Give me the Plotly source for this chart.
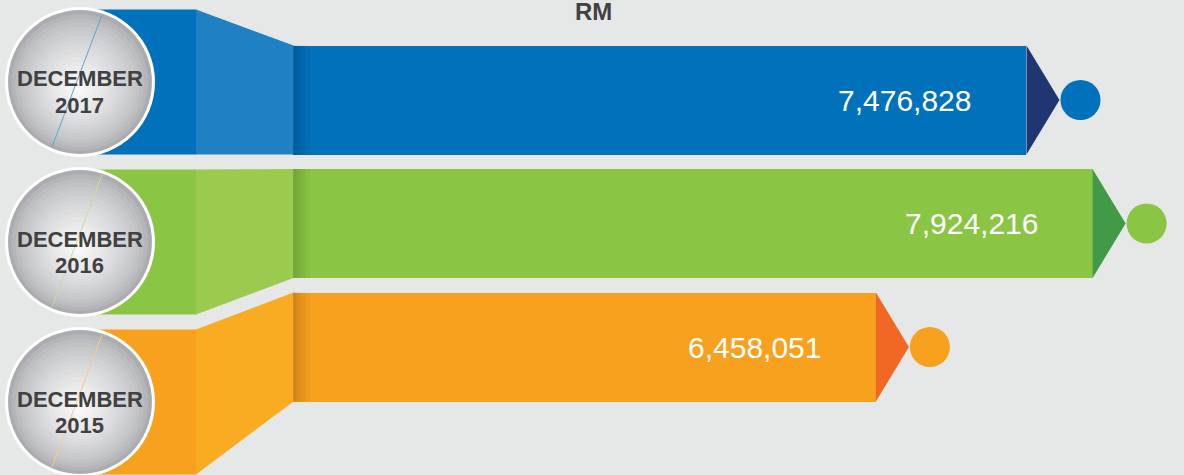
import plotly.graph_objects as go

# ---------------- data ----------------
months = ["DECEMBER", "DECEMBER", "DECEMBER"]
years = ["2017", "2016", "2015"]
values = [7476828, 7924216, 6458051]
value_labels = ["7,476,828", "7,924,216", "6,458,051"]
title_text = "RM"

# ---------------- style ----------------
W, H = 1184, 475
BG = "#E6E7E7"
main_colors = ["#0071BA", "#8AC543", "#F7A11E"]
light_colors = ["#1F80C4", "#9ACB4F", "#F9AB22"]
tip_colors = ["#1F3670", "#439A46", "#F06824"]
line_colors = ["#5BA6DB", "#C2E09A", "#FBCB86"]
TEXT_DARK = "#414042"
FONT = "Liberation Sans, Arial, sans-serif"

# pixel <-> data mapping (plot area = whole figure)
PX_PER_UNIT = 147.8e-6
PX_OFFSET = -78.6
ROW0_PY = 100.0
ROW_STEP = 123.5
n = len(values)
BAR_PX = 109.0


def x_of(px):
    return (px - PX_OFFSET) / PX_PER_UNIT


def y_of(py):
    return (ROW0_PY + ROW_STEP * (n - 1) - py) / ROW_STEP


def fx(px):
    return px / W


def fy(py):
    return 1 - py / H


def hex2rgb(h):
    h = h.lstrip("#")
    return tuple(int(h[i:i + 2], 16) for i in (0, 2, 4))


def mix(c1, c2, t):
    a, b = hex2rgb(c1), hex2rgb(c2)
    return "rgb(%d,%d,%d)" % tuple(round(a[k] + (b[k] - a[k]) * t) for k in range(3))


BASE = x_of(293)
ys = [n - 1 - i for i in range(n)]

fig = go.Figure()

# main bars
fig.add_trace(go.Bar(
    orientation="h",
    y=ys,
    x=[v - BASE for v in values],
    base=BASE,
    width=BAR_PX / ROW_STEP,
    marker=dict(color=main_colors, line=dict(width=0)),
    hoverinfo="skip",
    showlegend=False,
))

# arrow tips and dots
half = (BAR_PX / 2) / ROW_STEP
dx_tip = 33 / PX_PER_UNIT
dx_dot = 54 / PX_PER_UNIT
for i, v in enumerate(values):
    yc = ys[i]
    fig.add_trace(go.Scatter(
        x=[v, v + dx_tip, v, v],
        y=[yc + half, yc, yc - half, yc + half],
        mode="lines", fill="toself", fillcolor=tip_colors[i],
        line=dict(width=0, color=tip_colors[i]),
        hoverinfo="skip", showlegend=False,
    ))
    fig.add_trace(go.Scatter(
        x=[v + dx_dot], y=[yc], mode="markers",
        marker=dict(size=40, color=main_colors[i], line=dict(width=0)),
        hoverinfo="skip", showlegend=False,
    ))

shapes = []
annotations = []
for i in range(n):
    cy = 82 + 160 * i
    bar_c = ROW0_PY + ROW_STEP * i
    bt, bb = bar_c - BAR_PX / 2, bar_c + BAR_PX / 2
    kt, kb = cy - 72.5, cy + 72.5
    # left block
    shapes.append(dict(type="rect", xref="paper", yref="paper",
                       x0=fx(80), x1=fx(196.5), y0=fy(kb), y1=fy(kt),
                       fillcolor=main_colors[i], line=dict(width=0)))
    # funnel trapezoid
    path = "M %f,%f L %f,%f L %f,%f L %f,%f Z" % (
        fx(196), fy(kt), fx(293.5), fy(bt), fx(293.5), fy(bb), fx(196), fy(kb))
    shapes.append(dict(type="path", xref="paper", yref="paper", path=path,
                       fillcolor=light_colors[i], line=dict(width=0)))
    # soft shadow at bar start
    for w in (3, 6, 9, 13, 17):
        shapes.append(dict(type="rect", xref="paper", yref="paper",
                           x0=fx(293), x1=fx(293 + w), y0=fy(bb), y1=fy(bt),
                           fillcolor="black", opacity=0.03, line=dict(width=0)))
    # medallion circle
    cx = 80
    shapes.append(dict(type="circle", xref="paper", yref="paper",
                       x0=fx(cx - 75), x1=fx(cx + 75), y0=fy(cy + 75), y1=fy(cy - 75),
                       fillcolor="white", line=dict(width=0)))
    N = 18
    hx, hy = cx - 2, cy + 6
    for k in range(N):
        t = k / (N - 1)
        r = 72 * (1 - 0.92 * t)
        ccx = cx + (hx - cx) * t
        ccy = cy + (hy - cy) * t
        col = mix("#ABACB0", "#F8F8F8", t ** 0.7)
        shapes.append(dict(type="circle", xref="paper", yref="paper",
                           x0=fx(ccx - r), x1=fx(ccx + r), y0=fy(ccy + r), y1=fy(ccy - r),
                           fillcolor=col, line=dict(width=0)))
    shapes.append(dict(type="line", xref="paper", yref="paper",
                       x0=fx(cx + 22), y0=fy(cy - 67), x1=fx(cx - 28), y1=fy(cy + 65),
                       line=dict(color=line_colors[i], width=1)))
    # medallion text
    annotations.append(dict(xref="paper", yref="paper", x=fx(80), y=fy(cy - 3),
                            text="<b>%s</b>" % months[i], showarrow=False,
                            xanchor="center", yanchor="middle",
                            font=dict(family=FONT, size=22, color=TEXT_DARK)))
    annotations.append(dict(xref="paper", yref="paper", x=fx(79), y=fy(cy + 23),
                            text="<b>%s</b>" % years[i], showarrow=False,
                            xanchor="center", yanchor="middle",
                            font=dict(family=FONT, size=22, color=TEXT_DARK)))
    # value label
    annotations.append(dict(xref="x", yref="y", x=values[i], y=ys[i],
                            text=value_labels[i], showarrow=False,
                            xanchor="right", yanchor="middle", xshift=-53,
                            font=dict(family=FONT, size=30, color="white")))

annotations.append(dict(xref="paper", yref="paper", x=fx(593), y=fy(11),
                        text="<b>%s</b>" % title_text, showarrow=False,
                        xanchor="center", yanchor="middle",
                        font=dict(family=FONT, size=24, color=TEXT_DARK)))

fig.update_layout(
    width=W, height=H,
    margin=dict(l=0, r=0, t=0, b=0),
    paper_bgcolor=BG, plot_bgcolor=BG,
    xaxis=dict(range=[x_of(0), x_of(W)], visible=False, fixedrange=True),
    yaxis=dict(range=[y_of(H), y_of(0)], visible=False, fixedrange=True),
    shapes=shapes,
    annotations=annotations,
    bargap=0,
    showlegend=False,
)

fig.write_html(
    "out.html",
    config={"displayModeBar": False},
    post_script="document.body.style.margin='0';document.body.style.overflow='hidden';",
)
